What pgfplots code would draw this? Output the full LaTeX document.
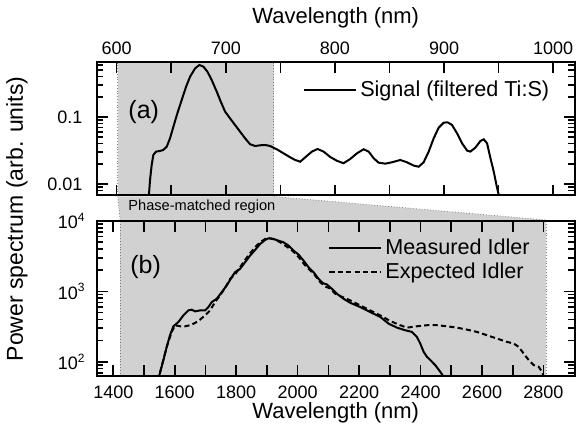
\documentclass[border=0pt]{standalone}
\usepackage{fontspec}
\setmainfont{Liberation Sans}
\usepackage{pgfplots}
\pgfplotsset{compat=1.18}

\definecolor{pmgray}{gray}{0.82}

\pgfplotsset{
  legend image code/.code={\draw[#1] (0pt,0pt) -- (26pt,0pt);},
}

\begin{document}
\begin{tikzpicture}

% (a) signal
\begin{axis}[at={(0,90.25pt)}, scale only axis, width=238.75pt, height=66.75pt,
  ymode=log, axis on top,
  axis line style={line width=1pt},
  every tick/.style={black, line width=0.8pt},
  major tick length=5.5pt, minor tick length=3.2pt, tick align=inside,
  tick label style={font=\fontsize{9}{10.8}\selectfont},
  xmin=582, xmax=1019.5, ymin=0.00673, ymax=0.662,
  xtick={600,650,...,1000},
  xticklabels={600,,700,,800,,900,,1000},
  xticklabel pos=upper,
  ytick={0.01,0.1}, yticklabels={0.01,0.1},
  minor ytick={0.007,0.008,0.009,0.02,0.03,0.04,0.05,0.06,0.07,0.08,0.09,0.2,0.3,0.4,0.5,0.6},
  yticklabel style={xshift=-3.8pt},
  xlabel={Wavelength (nm)},
  xlabel style={at={(axis description cs:0.5,1)}, anchor=center, yshift=22pt, font=\fontsize{11}{13}\selectfont},
  legend style={draw=none, fill=none, inner sep=0pt, at={(0.954,0.79)}, anchor=east,
    nodes={inner sep=1.5pt}, font=\fontsize{10.8}{13}\selectfont},
  legend cell align=left,
]
\addplot[fill=pmgray, draw=none, forget plot] coordinates {(601,0.001) (744,0.001) (744,10) (601,10)} -- cycle;
\addplot[densely dotted, gray, line width=0.4pt, forget plot] coordinates {(601,0.001) (601,10)};
\addplot[densely dotted, gray, line width=0.4pt, forget plot] coordinates {(744,0.001) (744,10)};
\addplot[black, line width=1pt] table {
628.0 0.005
629.7 0.00726
630.6 0.0115
632.1 0.0192
633.6 0.0271
636.1 0.0304
639.7 0.0311
642.8 0.0322
645.9 0.0361
648.9 0.0480
652.0 0.0716
655.6 0.113
659.6 0.179
663.6 0.283
667.3 0.400
671.9 0.532
675.8 0.597
679.5 0.564
683.2 0.474
687.1 0.356
691.7 0.239
695.4 0.169
699.4 0.120
703.9 0.0955
708.5 0.0759
713.1 0.0604
717.7 0.0480
722.3 0.0391
726.9 0.0369
731.5 0.0378
736.1 0.0382
740.7 0.0369
746.8 0.0329
752.9 0.0287
759.0 0.0250
763.6 0.0228
768.2 0.0215
772.8 0.0250
778.9 0.0304
784.1 0.0333
789.6 0.0304
795.7 0.0253
801.8 0.0222
807.9 0.0204
814.0 0.0236
820.2 0.0287
826.3 0.0330
830.9 0.0304
835.5 0.0242
840.0 0.0208
846.2 0.0201
852.3 0.0211
859.9 0.0228
866.0 0.0211
872.2 0.0188
876.7 0.0181
881.3 0.0211
885.9 0.0304
890.5 0.0481
895.1 0.0694
899.7 0.0823
903.3 0.0832
907.3 0.0760
911.9 0.0570
916.5 0.0404
921.1 0.0315
924.1 0.0304
928.7 0.0349
933.3 0.0438
936.4 0.0464
939.4 0.0404
942.5 0.0242
945.5 0.0153
948.0 0.00966
950.1 0.00686
951.0 0.0054
};
\addlegendentry{Signal (filtered Ti:S)}
\node[anchor=west, inner sep=0pt, font=\fontsize{12.5}{14}\selectfont] at (rel axis cs:0.065,0.625) {(a)};
\coordinate (tl) at (axis cs:601,0.00673);
\coordinate (tr) at (axis cs:744,0.00673);
\end{axis}

% (b) idler
\begin{axis}[at={(0,0)}, scale only axis, width=238.75pt, height=77.5pt,
  ymode=log, axis on top,
  axis line style={line width=1pt},
  every tick/.style={black, line width=0.8pt},
  major tick length=5.5pt, minor tick length=3.2pt, tick align=inside,
  tick label style={font=\fontsize{9}{10.8}\selectfont},
  xmin=1347, xmax=2901, ymin=63, ymax=10000,
  xtick={1400,1500,...,2800},
  xticklabels={1400,,1600,,1800,,2000,,2200,,2400,,2600,,2800},
  xticklabel style={yshift=-1.6pt},
  ytick={100,1000,10000},
  yticklabels={10\textsuperscript{2},10\textsuperscript{3},10\textsuperscript{4}},
  minor ytick={70,80,90,200,300,400,500,600,700,800,900,2000,3000,4000,5000,6000,7000,8000,9000},
  yticklabel style={xshift=-2.2pt},
  xlabel={Wavelength (nm)},
  xlabel style={at={(axis description cs:0.5,0)}, anchor=center, yshift=-18.5pt, font=\fontsize{11}{13}\selectfont},
  legend style={draw=none, fill=none, inner sep=0pt, at={(0.913,0.748)}, anchor=east,
    nodes={inner sep=1.5pt}, font=\fontsize{10.8}{13}\selectfont},
  legend cell align=left,
]
\addplot[fill=pmgray, draw=none, forget plot] coordinates {(1422,10) (2809,10) (2809,1e5) (1422,1e5)} -- cycle;
\addplot[densely dotted, gray, line width=0.4pt, forget plot] coordinates {(1422,10) (1422,1e5)};
\addplot[densely dotted, gray, line width=0.4pt, forget plot] coordinates {(2809,10) (2809,1e5)};
\addplot[black, line width=1pt] table {
1543.5 55
1550.0 64.9
1563.0 105.7
1573.9 163
1584.7 239
1595.6 320
1611.9 368
1628.2 457
1644.4 538
1655.3 550
1666.2 521
1682.4 538
1698.7 538
1709.6 600
1720.4 706
1736.7 787
1753.0 977
1769.3 1216
1785.6 1595
1796.4 1877
1812.7 2093
1829.0 2601
1845.3 3230
1861.6 3883
1877.9 4722
1894.2 5380
1905.0 5680
1921.3 5560
1937.6 5260
1953.9 4985
1970.2 4474
1986.5 3804
2002.8 3338
2019.0 2745
2035.3 2208
2051.6 1877
2067.9 1510
2082.0 1312
2095.0 1256
2111.3 1091
2127.6 927
2149.3 787
2171.0 690
2203.6 600
2236.2 510
2268.8 434
2295.9 349
2323.1 306
2350.2 281
2371.9 266
2388.2 226
2399.1 182
2409.9 139
2420.8 118
2431.6 106
2447.9 89.8
2464.2 72.2
2475.1 61.4
2480.0 55
};
\addlegendentry{Measured Idler}
\addplot[black, line width=1pt, dash pattern=on 2.6pt off 1.6pt] table {
1543.5 55
1550.0 64.9
1573.9 163
1590.1 266
1601.0 331
1617.3 320
1633.6 320
1649.9 331
1666.2 357
1682.4 398
1698.7 457
1715.0 538
1731.3 706
1747.6 877
1763.9 1127
1780.2 1510
1796.4 1740
1812.7 2208
1829.0 2806
1845.3 3486
1861.6 4238
1877.9 4985
1894.2 5560
1910.5 5680
1926.7 5437
1943.0 4985
1959.3 4474
1975.6 4015
1991.9 3486
2008.2 2899
2024.5 2333
2040.8 1983
2057.0 1683
2073.3 1355
2089.6 1177
2105.9 1100
2122.2 927
2138.5 860
2171.0 746
2203.6 634
2236.2 538
2268.8 457
2301.3 380
2333.9 331
2355.6 306
2388.2 320
2420.8 331
2453.3 331
2485.9 320
2518.5 306
2551.1 287
2583.7 266
2616.2 239
2648.8 214
2681.4 192
2703.1 182
2719.4 163
2735.7 131
2752.0 106
2768.3 90
2784.6 85
2795.4 72
2800.8 61
2803.0 55
};
\addlegendentry{Expected Idler}
\node[anchor=west, inner sep=0pt, font=\fontsize{12.5}{14}\selectfont] at (rel axis cs:0.069,0.703) {(b)};
\coordinate (bl) at (axis cs:1422,10000);
\coordinate (br) at (axis cs:2809,10000);
\end{axis}

% phase-matched band joining the panels
\fill[pmgray] ([yshift=-0.5pt]tl) -- ([yshift=-0.5pt]tr) -- ([yshift=0.5pt]br) -- ([yshift=0.5pt]bl) -- cycle;
\draw[densely dotted, gray, line width=0.4pt] ([yshift=-0.5pt]tl) -- ([yshift=0.5pt]bl);
\draw[densely dotted, gray, line width=0.4pt] ([yshift=-0.5pt]tr) -- ([yshift=0.5pt]br);
\node[anchor=west, inner sep=0pt, font=\fontsize{7.3}{8.5}\selectfont] at (15.5pt,84.5pt) {Phase-matched region};

\node[rotate=90, font=\fontsize{11.5}{13.5}\selectfont] at (-40pt,78.5pt) {Power spectrum (arb. units)};

\pgfresetboundingbox
\useasboundingbox (-48.5pt,-25.5pt) rectangle (241pt,188pt);
\end{tikzpicture}
\end{document}
